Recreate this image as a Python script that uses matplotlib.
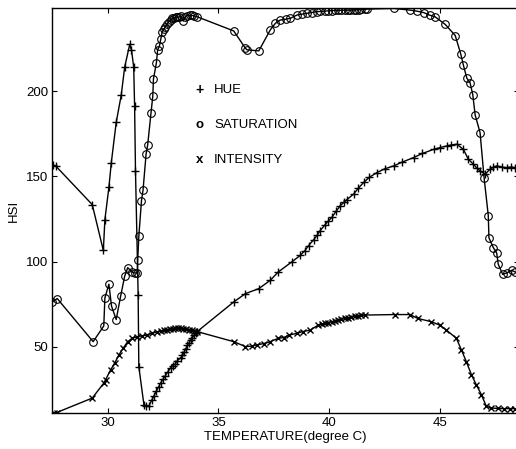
import matplotlib
matplotlib.use('Agg')
import matplotlib.pyplot as plt

plt.rcParams['font.family'] = ['Liberation Sans', 'DejaVu Sans']

# temperature (degree C) / valeurs
hue_t = [27.55, 27.66, 29.31, 29.81, 29.88, 30.06, 30.17, 30.39, 30.62, 30.77,
         31.0, 31.08, 31.18, 31.22, 31.26, 31.38, 31.41, 31.64, 31.75, 31.86,
         32.0, 32.1, 32.2, 32.3, 32.39, 32.5, 32.6, 32.72, 32.84, 32.95, 33.05,
         33.15, 33.29, 33.38, 33.45, 33.53, 33.6, 33.68, 33.75, 33.83, 33.9, 33.97, 34.04,
         35.69, 36.22, 36.82, 37.34, 37.7, 38.3, 38.69, 38.9, 39.07, 39.3, 39.45, 39.59,
         39.8, 39.95, 40.12, 40.3, 40.5, 40.65, 40.8, 41.1, 41.3, 41.55, 41.8, 42.15,
         42.5, 42.9, 43.3, 43.8, 44.2, 44.7, 45.0, 45.3, 45.5, 45.75, 46.05, 46.27,
         46.5, 46.65, 46.8, 47.03, 47.25, 47.4, 47.55, 47.8, 48.0, 48.2, 48.38]
hue = [156.5, 156.2, 133.5, 106.6, 124.7, 143.6, 158.2, 181.7, 198.0, 214.0,
       227.5, 224.4, 214.0, 191.3, 153.3, 80.4, 38.5, 16.1, 15.5, 15.2,
       19.0, 21.5, 24.0, 26.5, 28.8, 31.0, 33.0, 35.5, 37.7, 39.0, 40.0,
       42.0, 43.6, 45.0, 47.0, 49.0, 51.0, 52.5, 54.0, 55.5, 57.0, 58.0, 59.0,
       76.4, 81.3, 84.2, 89.1, 94.0, 99.8, 103.7, 106.5, 109.5, 113.0, 115.5, 118.3,
       121.5, 123.8, 126.1, 129.5, 132.9, 134.8, 136.5, 139.7, 143.0, 146.5, 149.5, 152.3,
       154.5, 156.2, 158.5, 161.1, 163.5, 165.9, 167.0, 167.9, 168.5, 168.9, 165.9, 160.1,
       157.2, 155.0, 153.3, 151.3, 154.3, 155.5, 156.2, 155.5, 155.2, 155.6, 155.2]

sat_t = [27.51, 27.73, 29.35, 29.83, 29.88, 30.06, 30.18, 30.39, 30.59, 30.77,
         30.91, 31.11, 31.23, 31.34, 31.36, 31.41, 31.53, 31.6, 31.74, 31.81,
         31.96, 32.04, 32.07, 32.2, 32.26, 32.34, 32.4, 32.46, 32.54, 32.61, 32.68, 32.76,
         32.84, 32.91, 33.0, 33.07, 33.14, 33.22, 33.3, 33.41, 33.5, 33.59, 33.7, 33.8,
         33.92, 34.04, 35.69, 36.22, 36.29, 36.82, 37.34, 37.57, 37.79, 38.05, 38.24,
         38.54, 38.75, 38.99, 39.2, 39.44, 39.6, 39.8, 39.95, 40.1, 40.25, 40.4, 40.55,
         40.7, 40.85, 40.95, 41.1, 41.2, 41.35, 41.45, 41.6, 41.7, 42.9, 43.65, 43.95,
         44.25, 44.52, 44.77, 45.23, 45.68, 45.93, 46.05, 46.2, 46.35, 46.47, 46.58,
         46.8, 46.98, 47.17, 47.2, 47.4, 47.55, 47.62, 47.82, 48.0, 48.23, 48.38]
sat = [76.4, 78.4, 53.1, 62.3, 78.8, 86.8, 73.9, 66.1, 79.8, 91.4,
       96.5, 93.9, 93.4, 93.4, 100.8, 114.8, 135.8, 142.0, 163.4, 168.5,
       187.3, 197.1, 207.2, 216.5, 224.3, 226.6, 230.5, 234.6, 236.5, 237.9, 239.5, 240.8,
       241.8, 242.7, 243.0, 243.4, 243.7, 243.5, 244.0, 241.2, 243.5, 244.4, 244.5, 244.5,
       244.2, 243.7, 235.4, 225.2, 224.3, 223.7, 236.0, 239.9, 241.8, 242.3, 242.8,
       244.7, 245.2, 245.7, 246.2, 246.7, 246.8, 247.0, 247.2, 247.3, 247.4, 247.5, 247.5,
       247.6, 247.6, 247.6, 247.7, 247.8, 247.9, 248.0, 248.1, 248.2, 248.6, 247.6, 247.0,
       246.2, 244.7, 243.7, 239.2, 232.7, 221.8, 215.2, 207.8, 204.9, 198.1, 186.0,
       175.7, 149.4, 127.1, 114.0, 108.2, 105.1, 98.5, 92.6, 93.4, 95.0, 94.0]

int_t = [27.58, 27.7, 29.31, 29.83, 29.91, 30.14, 30.32, 30.51, 30.7, 30.91,
         31.11, 31.34, 31.55, 31.78, 32.0, 32.23, 32.4, 32.54, 32.7, 32.8, 32.95, 33.05,
         33.18, 33.29, 33.42, 33.55, 33.68, 33.81, 33.92, 34.04, 35.69, 36.22, 36.5,
         36.74, 37.05, 37.34, 37.7, 37.94, 38.2, 38.54, 38.8, 39.14, 39.5, 39.65, 39.8,
         39.95, 40.1, 40.25, 40.4, 40.55, 40.7, 40.85, 41.0, 41.15, 41.3, 41.45, 41.6,
         42.95, 43.63, 44.0, 44.6, 44.98, 45.28, 45.73, 45.96, 46.18, 46.41, 46.63,
         46.86, 47.08, 47.31, 47.6, 47.9, 48.15, 48.36]
intensity = [11.3, 11.5, 20.0, 28.8, 30.7, 36.6, 40.5, 45.3, 49.2, 53.1,
             55.1, 56.0, 56.5, 57.0, 58.0, 58.9, 59.4, 59.9, 60.2, 60.5, 60.8, 61.0,
             61.0, 60.9, 60.7, 60.5, 60.2, 59.9, 59.5, 59.0, 53.1, 50.2, 50.5,
             51.2, 52.0, 53.1, 55.1, 55.5, 57.0, 58.0, 59.0, 59.9, 62.8, 63.3, 63.8,
             64.3, 64.8, 65.3, 65.8, 66.2, 66.7, 67.1, 67.5, 67.9, 68.2, 68.5, 68.7,
             69.0, 69.0, 66.7, 64.8, 62.8, 59.9, 55.1, 48.2, 41.4, 33.7, 27.8,
             22.0, 15.2, 14.2, 13.9, 13.8, 13.8, 13.8]

x_ticks = [30, 35, 40, 45]
y_ticks = [50, 100, 150, 200]

fig = plt.figure(figsize=(5.16, 4.49), dpi=100)
ax = fig.add_axes([0.101, 0.08, 0.905, 0.902])

ax.plot(hue_t, hue, 'k-', marker='+', ms=6, mew=1.0, lw=1.0)
ax.plot(sat_t, sat, 'k-', marker='o', ms=5.5, mfc='none', mew=0.8, lw=1.0)
ax.plot(int_t, intensity, 'k-', marker='x', ms=5, mew=1.0, lw=1.0)

ax.set_xlim(27.5, 48.56)
ax.set_ylim(11.2, 248.8)
ax.set_xticks(x_ticks)
ax.set_yticks(y_ticks)
ax.tick_params(direction='in', top=True, right=True, length=3.5, width=0.8,
               labelsize=9.5, pad=3)
for s in ax.spines.values():
    s.set_linewidth(1.0)

# legende ecrite a la main
ax.text(0.315, 0.797, '+', transform=ax.transAxes, fontsize=10, ha='center', va='center', fontweight='bold')
ax.text(0.347, 0.797, 'HUE', transform=ax.transAxes, fontsize=9.5, va='center')
ax.text(0.315, 0.711, 'o', transform=ax.transAxes, fontsize=9.5, ha='center', va='center', fontweight='bold')
ax.text(0.347, 0.711, 'SATURATION', transform=ax.transAxes, fontsize=9.5, va='center')
ax.text(0.315, 0.625, 'x', transform=ax.transAxes, fontsize=9.5, ha='center', va='center', fontweight='bold')
ax.text(0.347, 0.625, 'INTENSITY', transform=ax.transAxes, fontsize=9.5, va='center')

ax.set_xlabel('TEMPERATURE(degree C)', fontsize=9.5, labelpad=1)
ax.set_ylabel('HSI', fontsize=9.5, labelpad=4)

fig.savefig('out.png', dpi=100)
